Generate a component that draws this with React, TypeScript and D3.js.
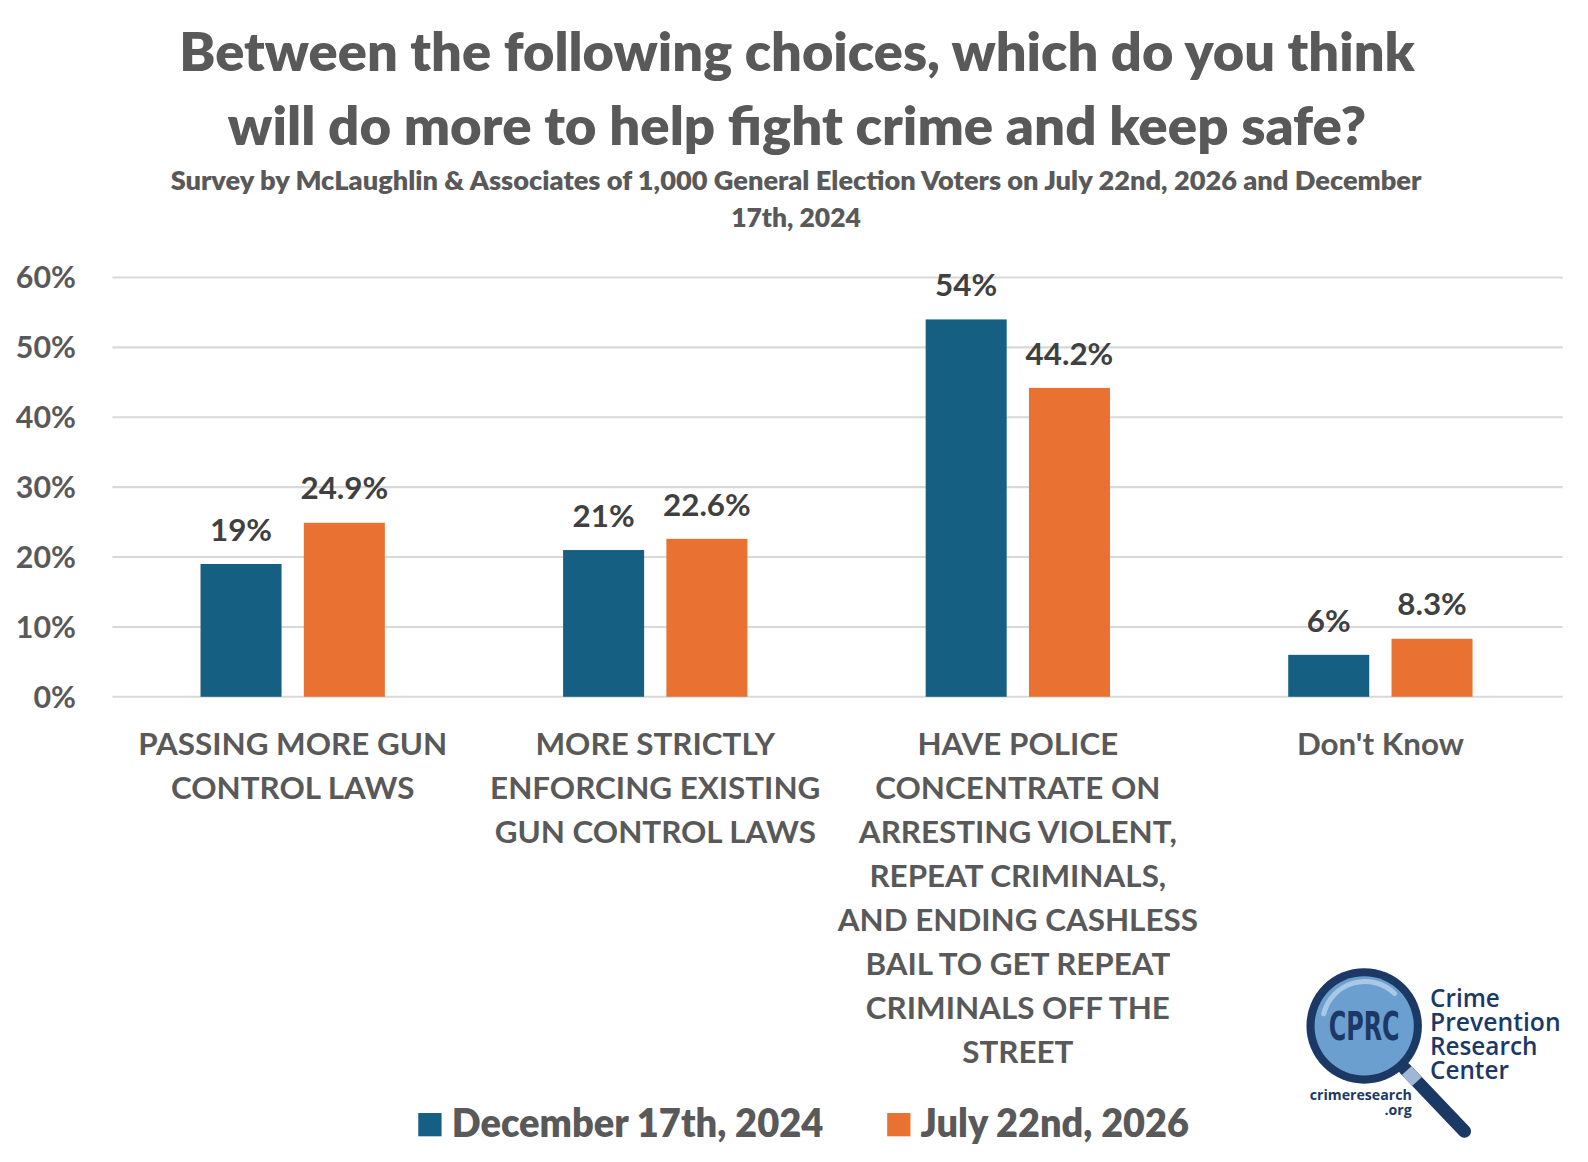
import { useRef, useEffect } from "react";
import * as d3 from "d3";

// Data
const categories = [
  "PASSING MORE GUN CONTROL LAWS",
  "MORE STRICTLY ENFORCING EXISTING GUN CONTROL LAWS",
  "HAVE POLICE CONCENTRATE ON ARRESTING VIOLENT, REPEAT CRIMINALS, AND ENDING CASHLESS BAIL TO GET REPEAT CRIMINALS OFF THE STREET",
  "Don't Know",
];
const categoryLines = [
  ["PASSING MORE GUN", "CONTROL LAWS"],
  ["MORE STRICTLY", "ENFORCING EXISTING", "GUN CONTROL LAWS"],
  [
    "HAVE POLICE",
    "CONCENTRATE ON",
    "ARRESTING VIOLENT,",
    "REPEAT CRIMINALS,",
    "AND ENDING CASHLESS",
    "BAIL TO GET REPEAT",
    "CRIMINALS OFF THE",
    "STREET",
  ],
  ["Don't Know"],
];
const seriesNames = ["December 17th, 2024", "July 22nd, 2026"];
const dec2024 = [19, 21, 54, 6];
const jul2026 = [24.9, 22.6, 44.2, 8.3];
const yTicks = [0, 10, 20, 30, 40, 50, 60];

const titleLines = [
  "Between the following choices, which do you think",
  "will do more to help fight crime and keep safe?",
];
const subtitleLines = [
  "Survey by McLaughlin & Associates of 1,000 General Election Voters on July 22nd, 2026 and December",
  "17th, 2024",
];
const logoLines = ["Crime", "Prevention", "Research", "Center"];

const COLORS = ["#156082", "#E97132"];
const TEXT = "#595959";
const FONT = "Lato, 'Open Sans', sans-serif";
const NAVY = "#1c3966";

export default function App() {
  const svgRef = useRef<SVGSVGElement>(null);

  useEffect(() => {
    if (!svgRef.current) return;
    document.body.style.margin = "0";
    document.body.style.overflow = "hidden";
    document.documentElement.style.overflow = "hidden";

    const width = 1588;
    const height = 1162;
    const svg = d3.select(svgRef.current);
    svg.selectAll("*").remove();
    svg.attr("width", width).attr("height", height);

    svg.append("rect").attr("width", width).attr("height", height).attr("fill", "#fff");

    // layout was measured on a 1568-wide view of the picture
    const root = svg.append("g").attr("transform", `scale(${1588 / 1568})`);

    // Title + subtitle
    const titleWidths = [1220, 1124];
    titleLines.forEach((t, i) => {
      root
        .append("text")
        .attr("x", 787)
        .attr("y", 70 + i * 73)
        .attr("text-anchor", "middle")
        .attr("font-family", FONT)
        .attr("font-size", 52)
        .attr("font-weight", 800)
        .attr("fill", TEXT)
        .attr("textLength", titleWidths[i])
        .attr("lengthAdjust", "spacingAndGlyphs")
        .text(t);
    });
    const subWidths = [1235, 128];
    subtitleLines.forEach((t, i) => {
      root
        .append("text")
        .attr("x", 786)
        .attr("y", 188 + i * 36)
        .attr("text-anchor", "middle")
        .attr("font-family", FONT)
        .attr("font-size", 26)
        .attr("font-weight", 800)
        .attr("fill", TEXT)
        .attr("textLength", subWidths[i])
        .attr("lengthAdjust", "spacingAndGlyphs")
        .text(t);
    });

    // Scales
    const x0 = d3.scaleBand<number>().domain(d3.range(categories.length)).range([110, 1542]);
    const x1 = d3
      .scaleBand<number>()
      .domain([0, 1])
      .range([0, x0.bandwidth()])
      .paddingInner(22 / 102)
      .paddingOuter(0.8627);
    const y = d3.scaleLinear().domain([0, 60]).range([688, 274]);

    // Gridlines
    root
      .append("g")
      .selectAll("line")
      .data(yTicks)
      .enter()
      .append("line")
      .attr("x1", 111)
      .attr("x2", 1543)
      .attr("y1", (d) => y(d))
      .attr("y2", (d) => y(d))
      .attr("stroke", "#d9d9d9")
      .attr("stroke-width", 2);

    // Y tick labels
    root
      .append("g")
      .selectAll("text")
      .data(yTicks)
      .enter()
      .append("text")
      .attr("x", 75)
      .attr("y", (d) => y(d))
      .attr("dy", "0.36em")
      .attr("text-anchor", "end")
      .attr("font-family", FONT)
      .attr("font-size", 30)
      .attr("font-weight", 700)
      .attr("fill", TEXT)
      .text((d) => `${d}%`);

    // Bars
    const series = [dec2024, jul2026];
    series.forEach((vals, si) => {
      const g = root.append("g");
      g.selectAll("rect")
        .data(vals)
        .enter()
        .append("rect")
        .attr("x", (_, i) => (x0(i) ?? 0) + (x1(si) ?? 0))
        .attr("y", (d) => y(d))
        .attr("width", x1.bandwidth())
        .attr("height", (d) => y(0) - y(d))
        .attr("fill", COLORS[si]);
      g.selectAll("text")
        .data(vals)
        .enter()
        .append("text")
        .attr("x", (_, i) => (x0(i) ?? 0) + (x1(si) ?? 0) + x1.bandwidth() / 2)
        .attr("y", (d) => y(d) - 23)
        .attr("text-anchor", "middle")
        .attr("font-family", FONT)
        .attr("font-size", 31)
        .attr("font-weight", 700)
        .attr("fill", "#404040")
        .text((d) => `${d}%`);
    });

    // Category labels
    categoryLines.forEach((lines, i) => {
      const cx = (x0(i) ?? 0) + x0.bandwidth() / 2;
      lines.forEach((line, li) => {
        root
          .append("text")
          .attr("x", cx)
          .attr("y", 745 + li * 43.5)
          .attr("text-anchor", "middle")
          .attr("font-family", FONT)
          .attr("font-size", 31)
          .attr("font-weight", 700)
          .attr("fill", TEXT)
          .text(line);
      });
    });

    // Legend
    const legendX = [413, 876];
    const legendW = [367, 265];
    seriesNames.forEach((name, i) => {
      root
        .append("rect")
        .attr("x", legendX[i])
        .attr("y", 1099)
        .attr("width", 23)
        .attr("height", 23)
        .attr("fill", COLORS[i]);
      root
        .append("text")
        .attr("x", legendX[i] + 33)
        .attr("y", 1123)
        .attr("font-family", FONT)
        .attr("font-size", 40)
        .attr("font-weight", 800)
        .attr("fill", TEXT)
        .attr("textLength", legendW[i])
        .attr("lengthAdjust", "spacingAndGlyphs")
        .text(name);
    });

    // CPRC logo
    const logo = root.append("g");
    const cx = 1347;
    const cy = 1013;
    logo
      .append("line")
      .attr("x1", cx + 40)
      .attr("y1", cy + 42)
      .attr("x2", 1446)
      .attr("y2", 1117)
      .attr("stroke", NAVY)
      .attr("stroke-width", 13)
      .attr("stroke-linecap", "round");
    logo
      .append("line")
      .attr("x1", cx + 42)
      .attr("y1", cy + 44)
      .attr("x2", cx + 52)
      .attr("y2", cy + 55)
      .attr("stroke", "#9db7d4")
      .attr("stroke-width", 13);
    logo.append("circle").attr("cx", cx).attr("cy", cy).attr("r", 57).attr("fill", NAVY);
    logo.append("circle").attr("cx", cx).attr("cy", cy).attr("r", 49).attr("fill", "#6b9fcf");
    logo
      .append("path")
      .attr("d", `M ${cx - 40} ${cy - 12} A 42 42 0 0 1 ${cx + 30} ${cy - 32}`)
      .attr("fill", "none")
      .attr("stroke", "#a9c8e6")
      .attr("stroke-width", 5)
      .attr("stroke-linecap", "round");
    logo
      .append("text")
      .attr("x", cx)
      .attr("y", cy + 14)
      .attr("text-anchor", "middle")
      .attr("font-family", "'DejaVu Sans Condensed', 'Liberation Sans Narrow', sans-serif")
      .attr("font-size", 38)
      .attr("font-weight", 700)
      .attr("fill", NAVY)
      .attr("textLength", 70)
      .attr("lengthAdjust", "spacingAndGlyphs")
      .text("CPRC");
    logoLines.forEach((t, i) => {
      logo
        .append("text")
        .attr("x", 1412)
        .attr("y", 994 + i * 23.8)
        .attr("font-family", "'Open Sans', sans-serif")
        .attr("font-size", 24)
        .attr("font-weight", 600)
        .attr("fill", NAVY)
        .attr("textLength", i === 1 ? 129 : null)
        .attr("lengthAdjust", "spacingAndGlyphs")
        .text(t);
    });
    logo
      .append("text")
      .attr("x", 1394)
      .attr("y", 1086)
      .attr("text-anchor", "end")
      .attr("font-family", "'Open Sans', sans-serif")
      .attr("font-size", 14)
      .attr("font-weight", 700)
      .attr("fill", NAVY)
      .text("crimeresearch");
    logo
      .append("text")
      .attr("x", 1394)
      .attr("y", 1101)
      .attr("text-anchor", "end")
      .attr("font-family", "'Open Sans', sans-serif")
      .attr("font-size", 14)
      .attr("font-weight", 700)
      .attr("fill", NAVY)
      .text(".org");
  }, []);

  return <svg ref={svgRef} style={{ display: "block" }} />;
}
